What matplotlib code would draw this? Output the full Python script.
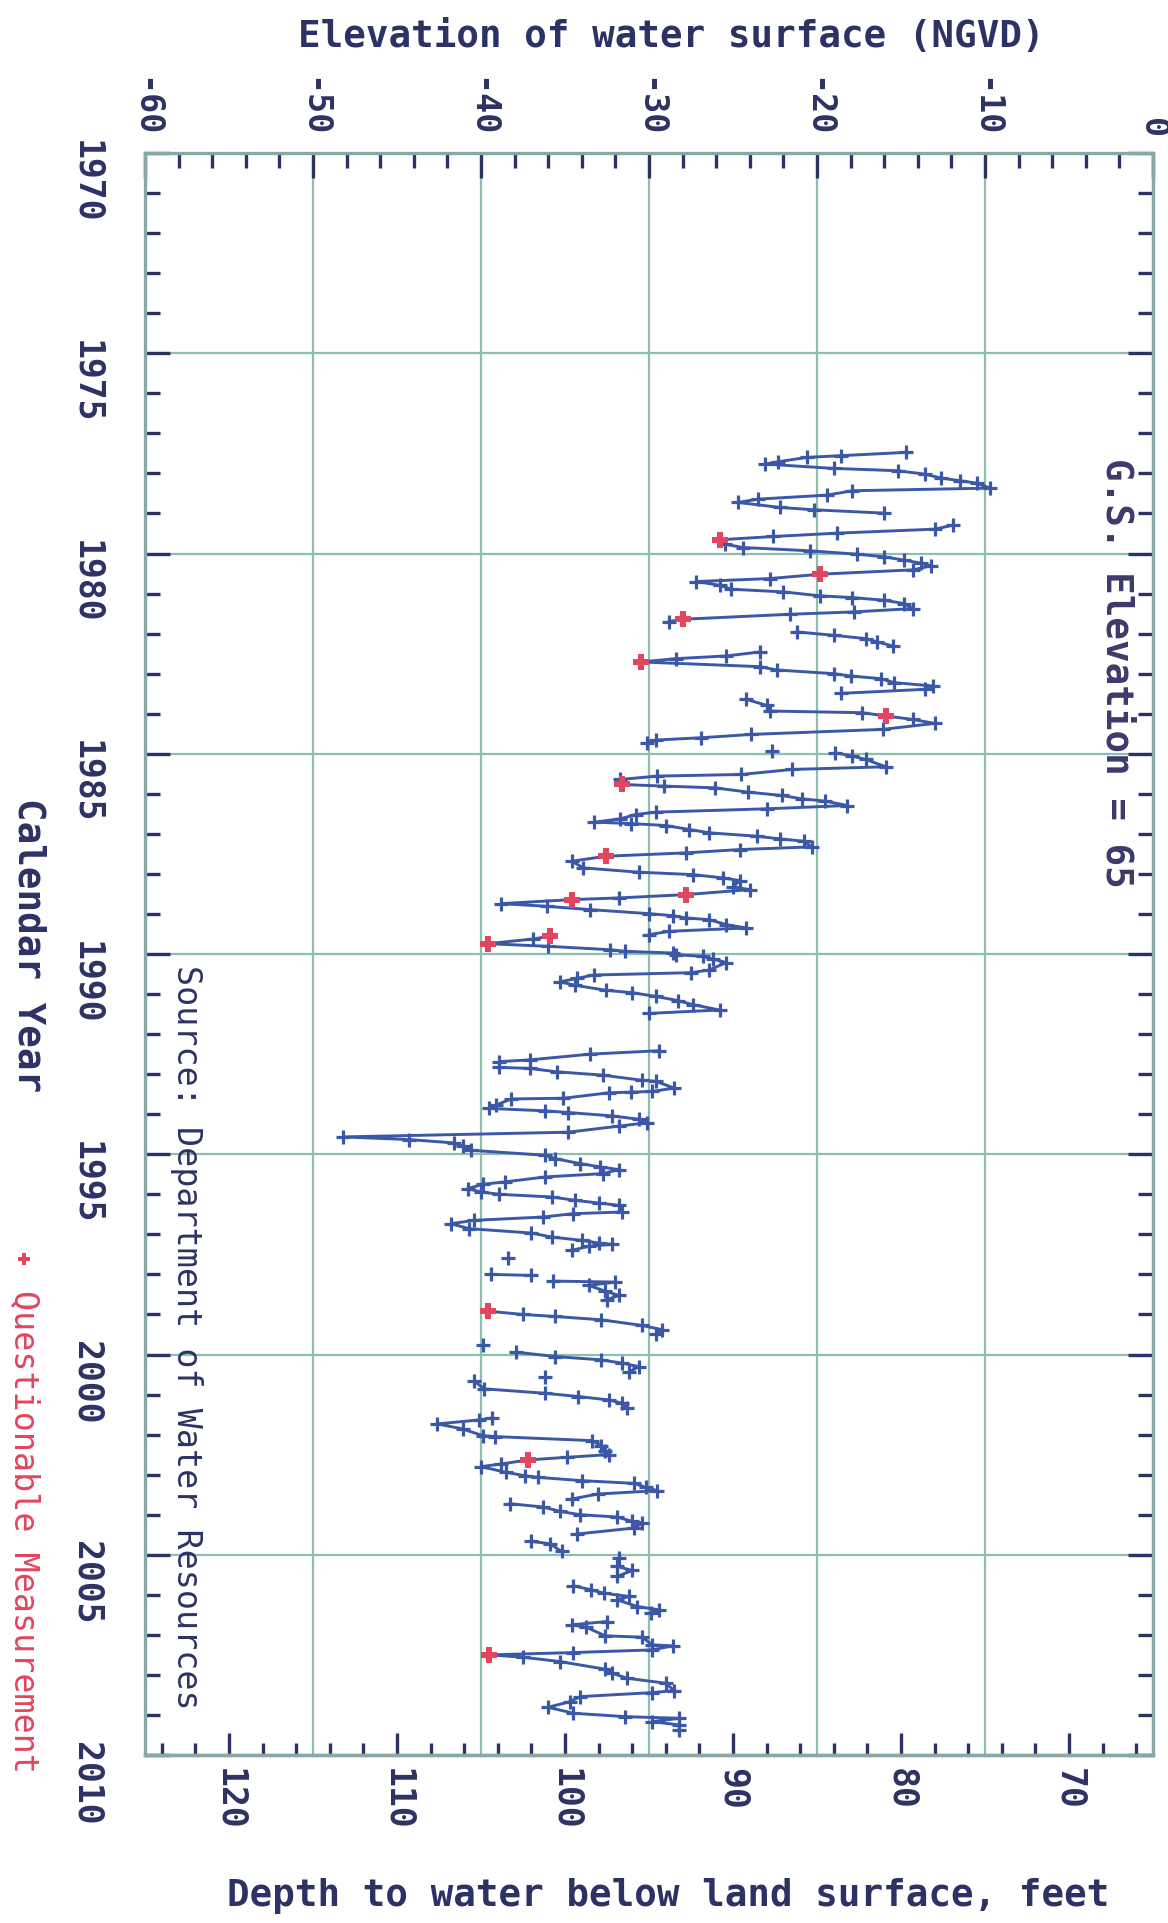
import numpy as np
import matplotlib
matplotlib.use("Agg")
import matplotlib.pyplot as plt
from matplotlib.ticker import FixedLocator, MultipleLocator
from matplotlib.lines import Line2D

plt.rcParams["axes.unicode_minus"] = False

nan = np.nan
GAP = (nan, nan)

# Monthly water-level observations: (decimal year, elevation of water surface, ft NGVD)
obs_1977_1986 = [
    (1977.475, -14.7), (1977.558, -18.6), (1977.600, -20.6), (1977.708, -22.3), (1977.767, -23.1),
    (1977.875, -19.0), (1977.933, -15.2), (1978.017, -13.6), (1978.117, -12.6), (1978.183, -11.5),
    (1978.242, -10.5), (1978.367, -9.7), (1978.433, -17.9), (1978.542, -19.4), (1978.642, -23.5),
    (1978.725, -24.7), (1978.850, -22.2), (1978.908, -20.2), (1978.992, -16.0), GAP,
    (1979.292, -11.9), (1979.392, -13.0), (1979.492, -18.8), (1979.575, -22.6), (1979.658, -25.8),
    (1979.767, -25.5), (1979.850, -24.4), (1979.933, -20.4), (1980.017, -17.6), (1980.083, -16.0),
    (1980.167, -14.8), (1980.242, -13.8), (1980.308, -13.2), (1980.408, -14.3), (1980.517, -19.8),
    (1980.625, -22.8), (1980.700, -27.2), (1980.792, -25.8), (1980.892, -25.1), (1980.958, -22.0),
    (1981.058, -19.8), (1981.100, -17.9), (1981.167, -16.0), (1981.250, -14.8), (1981.375, -14.3),
    (1981.458, -17.8), (1981.517, -21.6), (1981.642, -28.0), (1981.700, -28.8), GAP,
    (1981.958, -21.2), (1982.042, -19.0), (1982.125, -17.1), (1982.208, -16.4), (1982.308, -15.5), GAP,
    (1982.458, -23.4), (1982.558, -25.4), (1982.625, -28.4), (1982.708, -30.5), (1982.825, -23.4),
    (1982.908, -22.4), (1983.000, -19.0), (1983.058, -18.0), (1983.125, -16.2), (1983.225, -15.4),
    (1983.308, -13.1), (1983.392, -13.6), (1983.492, -18.6), GAP,
    (1983.642, -24.2), (1983.792, -23.0), (1983.933, -22.8), (1983.975, -17.3), (1984.058, -15.9),
    (1984.142, -14.3), (1984.242, -13.0), (1984.392, -16.1), (1984.517, -23.9), (1984.600, -26.9),
    (1984.658, -29.6), (1984.742, -30.1), GAP,
    (1984.933, -22.7), GAP,
    (1984.975, -18.9), (1985.058, -17.9), (1985.142, -17.1), (1985.325, -15.9), (1985.392, -21.5),
    (1985.517, -24.5), (1985.558, -29.5), (1985.642, -31.7), (1985.767, -31.6), (1985.808, -29.1),
    (1985.850, -26.1), (1985.958, -24.1), (1986.042, -22.1), (1986.125, -20.9), (1986.183, -19.5),
    (1986.292, -18.2),
]

obs_1986_1994 = [
    (1986.375, -23.0), (1986.458, -29.6), (1986.517, -30.8), (1986.625, -31.7), (1986.708, -33.25),
    (1986.742, -31.1), (1986.792, -29.0), (1986.892, -27.6), (1986.975, -26.4), (1987.058, -23.6),
    (1987.125, -22.2), (1987.183, -20.8), (1987.325, -20.3), (1987.392, -24.6), (1987.475, -27.8),
    (1987.558, -32.55), (1987.683, -34.6), (1987.850, -33.9), (1987.958, -30.6), (1988.017, -27.4),
    (1988.100, -25.6), (1988.167, -24.6), (1988.325, -25.0), (1988.392, -24.0), (1988.517, -27.8),
    (1988.600, -31.8), (1988.642, -34.6), (1988.742, -38.8), (1988.808, -36.1), (1988.892, -33.5),
    (1988.992, -30.0), (1989.042, -28.6), (1989.100, -27.8), (1989.142, -26.4), (1989.267, -25.4),
    (1989.350, -24.2), (1989.433, -28.8), (1989.517, -30.0), GAP,
    (1989.558, -35.9), (1989.625, -36.9), (1989.742, -39.6), (1989.808, -36.0), (1989.892, -32.35),
    (1989.933, -31.4), (1989.975, -28.6), (1990.017, -28.4), (1990.059, -26.8), (1990.127, -26.2),
    (1990.212, -25.4), (1990.398, -26.4), (1990.466, -27.5), (1990.525, -33.3), (1990.610, -34.3),
    (1990.695, -35.3), (1990.780, -34.4), (1990.907, -32.55), (1990.966, -31.0), (1991.059, -29.6),
    (1991.161, -28.3), (1991.263, -27.4), (1991.398, -25.8), (1991.483, -30.0), GAP,
    (1992.415, -29.4), (1992.500, -33.5), (1992.644, -37.1), (1992.686, -38.9), (1992.831, -38.9),
    (1992.856, -37.1), (1992.941, -35.5), (1993.025, -32.75), (1993.153, -30.4), (1993.178, -29.6),
    (1993.347, -28.5), (1993.432, -29.8), (1993.449, -31.1), (1993.466, -32.4), (1993.602, -35.1),
    (1993.619, -38.2), (1993.771, -39.1), (1993.856, -39.5), (1993.915, -36.2), (1993.958, -34.8),
    (1994.042, -32.2), (1994.127, -30.6), (1994.212, -30.1), (1994.297, -31.8), (1994.449, -34.8),
]

obs_1994_2003 = [
    (1994.567, -48.2), (1994.633, -44.3), (1994.717, -41.6), (1994.800, -41.1), (1994.900, -40.6),
    (1995.025, -36.2), (1995.108, -35.6), (1995.233, -34.1), (1995.317, -32.9), (1995.383, -31.8),
    (1995.483, -32.75), (1995.567, -36.2), (1995.692, -38.6), (1995.750, -39.9), (1995.858, -40.8),
    (1995.942, -40.0), (1996.000, -38.9), (1996.067, -35.8), (1996.150, -34.4), (1996.217, -33.0),
    (1996.275, -31.8), (1996.442, -31.6), (1996.483, -34.5), (1996.567, -36.3), (1996.650, -40.4),
    (1996.733, -41.8), (1996.858, -40.7), (1996.967, -37.0), (1997.067, -35.8), (1997.150, -34.0),
    (1997.217, -33.0), (1997.250, -32.2), (1997.300, -33.6), (1997.400, -34.6), GAP,
    (1997.583, -38.4), GAP,
    (1998.000, -39.4), (1998.025, -37.0), GAP,
    (1998.167, -35.7), (1998.192, -32.0), (1998.275, -33.6), (1998.417, -32.6), (1998.525, -31.8),
    (1998.633, -32.5), GAP,
    (1998.917, -39.6), (1999.000, -37.5), (1999.050, -35.6), (1999.133, -32.85), (1999.275, -30.4),
    (1999.383, -29.2), (1999.483, -29.6), GAP,
    (1999.775, -39.9), GAP,
    (1999.942, -37.9), (2000.050, -35.6), (2000.133, -32.85), (2000.217, -31.6), (2000.300, -30.6),
    (2000.442, -31.2), GAP,
    (2000.550, -36.2), GAP,
    (2000.667, -40.4), (2000.858, -39.8), (2000.967, -36.2), (2001.050, -34.2), (2001.133, -32.4),
    (2001.217, -31.6), (2001.333, -31.3), GAP,
    (2001.583, -39.35), (2001.633, -40.1), (2001.733, -42.6), (2001.858, -41.1), (2002.025, -39.9),
    (2002.050, -39.15), (2002.150, -33.4), (2002.275, -32.85), (2002.400, -32.6), (2002.500, -32.4),
    (2002.567, -34.9), (2002.633, -37.2), (2002.733, -38.8), (2002.800, -40.0), (2002.942, -38.5),
    (2003.025, -37.4), (2003.067, -36.6), (2003.150, -34.0), (2003.217, -30.9), (2003.317, -30.2),
    (2003.400, -29.5), (2003.483, -33.05), (2003.608, -34.6), GAP,
]

obs_2003_2009 = [
    (2003.725, -38.3), (2003.808, -36.3), (2003.917, -35.3), (2004.000, -34.1), (2004.058, -31.9),
    (2004.167, -31.0), (2004.208, -30.4), (2004.333, -30.9), (2004.483, -34.3), GAP,
    (2004.667, -37.0), (2004.725, -35.9), (2004.917, -35.2), GAP,
    (2005.083, -31.8), (2005.292, -31.9), (2005.392, -31.0), (2005.542, -31.9), GAP,
    (2005.775, -34.5), (2005.875, -33.45), (2005.958, -32.7), (2006.042, -31.2), (2006.125, -31.9),
    (2006.292, -30.7), (2006.375, -29.4), (2006.458, -29.9), GAP,
    (2006.667, -32.5), (2006.750, -34.6), (2006.808, -33.75), (2007.025, -32.6), (2007.058, -30.4),
    (2007.250, -29.8), (2007.275, -28.6), (2007.375, -29.8), (2007.442, -34.5), (2007.500, -39.5),
    (2007.558, -37.5), (2007.667, -35.3), (2007.858, -32.6), (2007.958, -32.2), (2008.083, -31.3),
    (2008.208, -29.0), (2008.392, -28.5), (2008.442, -29.8), (2008.542, -34.1), (2008.667, -34.7),
    (2008.808, -36.0), (2008.958, -34.5), (2009.042, -31.4), (2009.083, -28.2), (2009.167, -29.8),
    (2009.250, -28.2), (2009.375, -28.2),
]

# Measurements flagged as questionable
questionable = [
    (1979.658, -25.8), (1980.517, -19.8), (1981.642, -28.0), (1982.708, -30.5), (1984.058, -15.9),
    (1985.767, -31.6), (1987.558, -32.55), (1988.517, -27.8), (1988.642, -34.6), (1989.558, -35.9),
    (1989.742, -39.6), (1998.917, -39.6), (2002.633, -37.2), (2007.500, -39.5),
]

GS_ELEVATION = 65  # land-surface elevation of the well, ft
elev_ticks = [-60, -50, -40, -30, -20, -10, 0]
depth_ticks = [70, 80, 90, 100, 110, 120]
year_ticks = [1970, 1975, 1980, 1985, 1990, 1995, 2000, 2005, 2010]

series = np.array(obs_1977_1986 + obs_1986_1994 + obs_1994_2003 + obs_2003_2009)
flagged = np.array(questionable)

TXT = "#2d3264"
BLUE = "#3a58a6"
RED = "#e2455e"
GRID = "#8cbfae"
SPINE = "#8aa7a8"
MONO = "DejaVu Sans Mono"

fig = plt.figure(figsize=(11.68, 19.23), dpi=100)
fig.patch.set_facecolor("white")
ax = fig.add_axes([0.12414, 0.08736, 0.86301, 0.83307])

ax.set_xlim(-60, 0)
ax.set_ylim(2010, 1970)

# Elevation scale along the top
ax.xaxis.set_ticks_position("top")
ax.xaxis.set_major_locator(FixedLocator(elev_ticks))
ax.xaxis.set_minor_locator(MultipleLocator(2))
ax.set_xticklabels([str(v) for v in elev_ticks])
ax.tick_params(axis="x", which="both", direction="in", top=True, bottom=False,
               labeltop=True, labelbottom=False, color=TXT, width=2.4)
ax.tick_params(axis="x", which="major", length=18, pad=11, labelrotation=-90,
               labelsize=24, labelcolor=TXT)
ax.tick_params(axis="x", which="minor", length=11)

# Calendar years down the side
ax.yaxis.set_major_locator(FixedLocator(year_ticks))
ax.yaxis.set_minor_locator(MultipleLocator(1))
ax.set_yticklabels([str(v) for v in year_ticks])
ax.tick_params(axis="y", which="both", direction="in", left=True, right=True,
               labelleft=True, labelright=False, color=TXT, width=2.4)
ax.tick_params(axis="y", which="major", length=18, pad=30, labelrotation=-90,
               labelsize=25, labelcolor=TXT)
ax.tick_params(axis="y", which="minor", length=11)

for lab in ax.get_xticklabels() + ax.get_yticklabels():
    lab.set_fontfamily(MONO)
    lab.set_fontweight("bold")

# Depth below land surface along the bottom
sec = ax.secondary_xaxis("bottom", functions=(lambda e: GS_ELEVATION - e,
                                              lambda d: GS_ELEVATION - d))
sec.xaxis.set_major_locator(FixedLocator(depth_ticks))
sec.xaxis.set_minor_locator(FixedLocator(list(range(66, 125, 2))))
sec.set_xticklabels([str(v) for v in depth_ticks])
sec.tick_params(axis="x", which="both", direction="in", color=TXT, width=2.4)
sec.tick_params(axis="x", which="major", length=16, pad=9, labelrotation=-90,
                labelsize=25, labelcolor=TXT)
sec.tick_params(axis="x", which="minor", length=9)
for lab in sec.get_xticklabels():
    lab.set_fontfamily(MONO)
    lab.set_fontweight("bold")
for sp in sec.spines.values():
    sp.set_color(SPINE)
    sp.set_linewidth(2.4)

for sp in ax.spines.values():
    sp.set_color(SPINE)
    sp.set_linewidth(2.4)

ax.set_axisbelow(True)
ax.grid(which="major", color=GRID, linewidth=1.6)

# Water-level record
ax.plot(series[:, 1], series[:, 0], color=BLUE, linewidth=2.1, marker="+",
        markersize=10, markeredgewidth=2.3, zorder=3)
ax.plot(flagged[:, 1], flagged[:, 0], linestyle="none", marker="P", markersize=12,
        color=RED, markeredgewidth=0, zorder=4)

# Titles and annotations
fig.text(0.575, 0.9808, "Elevation of water surface (NGVD)", ha="center", va="center",
         fontsize=27, fontweight="bold", family=MONO, color=TXT)
fig.text(0.572, 0.0140, "Depth to water below land surface, feet", ha="center", va="center",
         fontsize=27, fontweight="bold", family=MONO, color=TXT)
fig.text(0.024, 0.5086, "Calendar Year", ha="center", va="center", rotation=-90,
         fontsize=27, fontweight="bold", family=MONO, color=TXT)
fig.text(0.0205, 0.2038, "Questionable Measurement", ha="center", va="center", rotation=-90,
         fontsize=24, family=MONO, color=RED)
fig.add_artist(Line2D([0.0205], [0.3455], transform=fig.transFigure, marker="P",
                      markersize=8, color=RED, markeredgewidth=0, linestyle="none"))
fig.text(0.1595, 0.3047, "Source: Department of Water Resources", ha="center", va="center",
         rotation=-90, fontsize=24, family=MONO, color=TXT)
fig.text(0.9555, 0.650, "G.S. Elevation = 65", ha="center", va="center", rotation=-90,
         fontsize=27, fontweight="bold", family=MONO, color="#3d3a6a")

fig.savefig("out.png", dpi=100, facecolor="white")
